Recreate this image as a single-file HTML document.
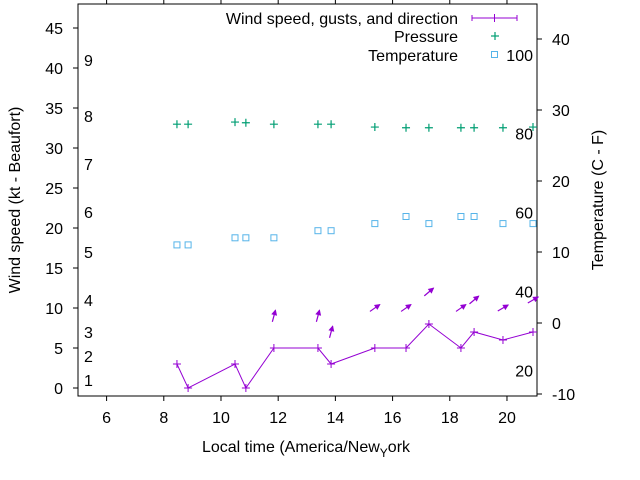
<!DOCTYPE html>
<html><head><meta charset="utf-8"><style>
html,body{margin:0;padding:0;background:#fff;}
svg{display:block;font-family:"Liberation Sans",sans-serif;}
</style></head><body>
<svg id="chart" width="640" height="480" viewBox="0 0 640 480">
<rect x="0" y="0" width="640" height="480" fill="#fff"/>
<g id="axes"></g>
<g id="plot"></g>
<text x="20" y="200" font-size="16" text-anchor="middle" transform="rotate(-90 20 200)">Wind speed (kt - Beaufort)</text>
<text x="603" y="200" font-size="16" text-anchor="middle" transform="rotate(-90 603 200)">Temperature (C - F)</text>
<text x="306" y="452" font-size="16" text-anchor="middle">Local time (America/New<tspan font-size="12" dy="5">Y</tspan><tspan dy="-5">ork</tspan></text>
<g>
<text x="458" y="24" font-size="16" text-anchor="end">Wind speed, gusts, and direction</text>
<g stroke="#9400d3" stroke-width="1">
<line x1="472" y1="18" x2="517" y2="18"/><line x1="472" y1="15" x2="472" y2="21"/><line x1="517" y1="15" x2="517" y2="21"/><line x1="494.5" y1="14" x2="494.5" y2="22"/></g>
<text x="458" y="42" font-size="16" text-anchor="end">Pressure</text>
<g stroke="#009e73" stroke-width="1.2"><line x1="491" y1="36" x2="499" y2="36"/><line x1="495" y1="32" x2="495" y2="40"/></g>
<text x="458" y="61" font-size="16" text-anchor="end">Temperature</text>
<rect x="491.5" y="51.5" width="6" height="6" fill="none" stroke="#56b4e9" stroke-width="1"/>
</g>
</svg>
<script>
const hours = [8.46,8.85,10.49,10.87,11.85,13.39,13.85,15.38,16.47,17.27,18.39,18.85,19.86,20.91];
const windSpeed = [3,0,3,0,5,5,3,5,5,8,5,7,6,7];
const gusts = [null,null,null,null,9,9,7,10,10,12,10,11,10,11];
const windDir = [null,null,null,null,195,195,195,235,235,230,235,230,240,240];
const pressure = [1018.0,1018.0,1018.3,1018.2,1018.0,1018.0,1018.0,1017.6,1017.5,1017.5,1017.5,1017.5,1017.5,1017.6];
const temperature = [11,11,12,12,12,13,13,14,15,14,15,15,14,14];
const xTicks = [6,8,10,12,14,16,18,20];
const yTicks = [0,5,10,15,20,25,30,35,40,45];
const y2Ticks = [-10,0,10,20,30,40];
const beaufortLabels = ["1","2","3","4","5","6","7","8","9"];
const beaufortKt = [1,4,7,11,17,22,28,34,41];
const fahrLabels = ["20","40","60","80","100"];
const fahrC = [-6.67,4.44,15.56,26.67,37.78];

const L=78,R=537,T=4,B=396;
const X=v=>L+(v-5)*(R-L)/(21.05-5);
const Y=v=>B-(v+1)*(B-T)/49;
const Y2=v=>323-v*7.1;
const P=v=>Y2(v-990);
const NS='http://www.w3.org/2000/svg';
function mk(tag,attrs,parent){const e=document.createElementNS(NS,tag);for(const k in attrs)e.setAttribute(k,attrs[k]);parent.appendChild(e);return e;}
const ax=document.getElementById('axes'), pl=document.getElementById('plot');

const frame=mk('rect',{x:L,y:T,width:R-L,height:B-T,fill:'none',stroke:'#000','stroke-width':1},ax);


xTicks.forEach(t=>{
  const x=X(t);
  const tk=mk('path',{d:`M${x},${B}v5M${x},${T}v-5`,stroke:'#000'},ax);
  
  
  const lb=mk('text',{x:x,y:B+27,'font-size':16,'text-anchor':'middle'},ax);lb.textContent=t;
  
  
});
yTicks.forEach(t=>{
  const y=Y(t);
  const tk=mk('path',{d:`M${L},${y}h-5`,stroke:'#000'},ax);
  
  
  const lb=mk('text',{x:63,y:y+6,'font-size':16,'text-anchor':'end'},ax);lb.textContent=t;
  
  
});
y2Ticks.forEach(t=>{
  const y=Y2(t);
  const tk=mk('path',{d:`M${R},${y}h5`,stroke:'#000'},ax);
  
  
  const lb=mk('text',{x:552,y:y+6,'font-size':16,'text-anchor':'start'},ax);lb.textContent=t;
  
  
});
beaufortLabels.forEach((s,i)=>{
  const lb=mk('text',{x:84,y:Y(beaufortKt[i])+6,'font-size':16},ax);lb.textContent=s;
  
  
});
fahrLabels.forEach((s,i)=>{
  const lb=mk('text',{x:533,y:Y2(fahrC[i])+6,'font-size':16,'text-anchor':'end'},ax);lb.textContent=s;
  
  
});

hours.forEach((h,i)=>{
  const x=X(h),y=P(pressure[i]);
  const m=mk('path',{d:`M${x-4},${y}h8M${x},${y-4}v8`,stroke:'#009e73','stroke-width':1.2},pl);
  
  
});
hours.forEach((h,i)=>{
  const x=X(h),y=Y2(temperature[i]);
  const m=mk('rect',{x:x-3,y:y-3,width:6,height:6,fill:'none',stroke:'#56b4e9','stroke-width':1},pl);
  
  
});
const line=mk('polyline',{points:hours.map((h,i)=>`${X(h)},${Y(windSpeed[i])}`).join(' '),fill:'none',stroke:'#9400d3','stroke-width':1},pl);


hours.forEach((h,i)=>{
  const x=X(h),y=Y(windSpeed[i]);
  const m=mk('path',{d:`M${x-4},${y}h8M${x},${y-4}v8`,stroke:'#9400d3','stroke-width':1},pl);
  
  
});
hours.forEach((h,i)=>{
  if(gusts[i]==null)return;
  const cx=X(h),cy=Y(gusts[i]);
  const a=(windDir[i]-180)*Math.PI/180;
  const dx=Math.sin(a)*6,dy=-Math.cos(a)*6;
  const x1=cx-dx,y1=cy-dy,x2=cx+dx,y2=cy+dy;
  const ux=dx/6,uy=dy/6,px=-uy,py=ux;
  const g=mk('g',{},pl);
  
  
  mk('line',{x1:x1,y1:y1,x2:x2,y2:y2,stroke:'#9400d3','stroke-width':1.2},g);
  mk('polygon',{points:`${x2+ux},${y2+uy} ${x2-5*ux+3*px},${y2-5*uy+3*py} ${x2-5*ux-3*px},${y2-5*uy-3*py}`,fill:'#9400d3'},g);
});
</script>
</body></html>
